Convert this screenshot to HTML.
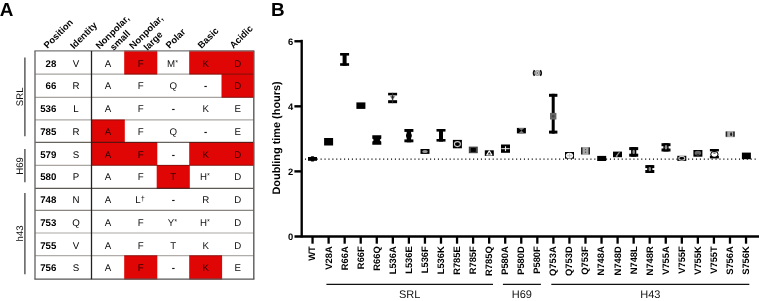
<!DOCTYPE html>
<html><head><meta charset="utf-8"><style>
html,body{margin:0;padding:0;background:#fff;width:759px;height:301px;overflow:hidden}
svg{display:block;filter:blur(0.3px)}
text{font-family:"Liberation Sans",sans-serif;text-rendering:geometricPrecision}
.g{text-rendering:geometricPrecision}
</style></head><body>
<svg width="759" height="301" viewBox="0 0 759 301">
<rect x="124.20" y="50.60" width="33.10" height="23.90" fill="#e00606"/>
<rect x="189.20" y="50.60" width="64.90" height="23.90" fill="#e00606"/>
<rect x="221.50" y="73.90" width="32.60" height="23.80" fill="#e00606"/>
<rect x="91.20" y="119.50" width="33.60" height="23.20" fill="#e00606"/>
<rect x="91.20" y="142.10" width="66.10" height="23.50" fill="#e00606"/>
<rect x="189.20" y="142.10" width="64.90" height="23.50" fill="#e00606"/>
<rect x="156.70" y="165.00" width="33.10" height="23.70" fill="#e00606"/>
<rect x="124.20" y="255.30" width="33.10" height="24.20" fill="#e00606"/>
<rect x="189.20" y="255.30" width="32.90" height="24.20" fill="#e00606"/>
<line x1="35.0" y1="74.20" x2="253.8" y2="74.20" stroke="#201810" stroke-width="1.2" stroke-opacity="0.4"/>
<line x1="35.0" y1="97.40" x2="253.8" y2="97.40" stroke="#201810" stroke-width="1.2" stroke-opacity="0.4"/>
<line x1="35.0" y1="119.80" x2="253.8" y2="119.80" stroke="#201810" stroke-width="1.2" stroke-opacity="0.38"/>
<line x1="35.0" y1="142.40" x2="253.8" y2="142.40" stroke="#201810" stroke-width="1.2" stroke-opacity="0.68"/>
<line x1="35.0" y1="165.30" x2="253.8" y2="165.30" stroke="#201810" stroke-width="1.2" stroke-opacity="0.39"/>
<line x1="35.0" y1="188.40" x2="253.8" y2="188.40" stroke="#201810" stroke-width="1.2" stroke-opacity="0.72"/>
<line x1="35.0" y1="210.40" x2="253.8" y2="210.40" stroke="#201810" stroke-width="1.2" stroke-opacity="0.53"/>
<line x1="35.0" y1="233.00" x2="253.8" y2="233.00" stroke="#201810" stroke-width="1.2" stroke-opacity="0.38"/>
<line x1="35.0" y1="255.60" x2="253.8" y2="255.60" stroke="#201810" stroke-width="1.2" stroke-opacity="0.36"/>
<line x1="34.4" y1="50.9" x2="254.4" y2="50.9" stroke="#777" stroke-width="1.4"/>
<line x1="34.4" y1="279.2" x2="254.4" y2="279.2" stroke="#555" stroke-width="1.3"/>
<line x1="35.0" y1="50.9" x2="35.0" y2="279.2" stroke="#6a6a6a" stroke-width="1.4"/>
<line x1="253.8" y1="50.9" x2="253.8" y2="279.2" stroke="#5a5a5a" stroke-width="1.4"/>
<line x1="91.5" y1="50.9" x2="91.5" y2="279.2" stroke="#222" stroke-width="1.3"/>
<text x="56.30" y="66.50" class="g" text-anchor="end" font-weight="bold" font-size="9.7">28</text>
<text x="76.00" y="66.50" class="g" text-anchor="middle" font-size="9.7">V</text>
<text x="108.00" y="66.50" class="g" text-anchor="middle" fill="#111" font-size="9.7">A</text>
<text x="140.75" y="66.50" class="g" text-anchor="middle" fill="#2a0000" font-size="9.7">F</text>
<text x="172.55" y="66.50" class="g" text-anchor="middle" fill="#111" font-size="9.7">M<tspan font-size="7.4" dy="-1.9">*</tspan></text>
<text x="205.65" y="66.50" class="g" text-anchor="middle" fill="#2a0000" font-size="9.7">K</text>
<text x="237.80" y="66.50" class="g" text-anchor="middle" fill="#2a0000" font-size="9.7">D</text>
<text x="56.30" y="89.25" class="g" text-anchor="end" font-weight="bold" font-size="9.7">66</text>
<text x="76.00" y="89.25" class="g" text-anchor="middle" font-size="9.7">R</text>
<text x="108.00" y="89.25" class="g" text-anchor="middle" fill="#111" font-size="9.7">A</text>
<text x="140.75" y="89.25" class="g" text-anchor="middle" fill="#111" font-size="9.7">F</text>
<text x="173.25" y="89.25" class="g" text-anchor="middle" fill="#111" font-size="9.7">Q</text>
<text x="205.65" y="89.25" class="g" text-anchor="middle" font-weight="bold" fill="#111" font-size="9.7">-</text>
<text x="237.80" y="89.25" class="g" text-anchor="middle" fill="#2a0000" font-size="9.7">D</text>
<text x="56.30" y="112.00" class="g" text-anchor="end" font-weight="bold" font-size="9.7">536</text>
<text x="76.00" y="112.00" class="g" text-anchor="middle" font-size="9.7">L</text>
<text x="108.00" y="112.00" class="g" text-anchor="middle" fill="#111" font-size="9.7">A</text>
<text x="140.75" y="112.00" class="g" text-anchor="middle" fill="#111" font-size="9.7">F</text>
<text x="173.25" y="112.00" class="g" text-anchor="middle" font-weight="bold" fill="#111" font-size="9.7">-</text>
<text x="205.65" y="112.00" class="g" text-anchor="middle" fill="#111" font-size="9.7">K</text>
<text x="237.80" y="112.00" class="g" text-anchor="middle" fill="#111" font-size="9.7">E</text>
<text x="56.30" y="134.75" class="g" text-anchor="end" font-weight="bold" font-size="9.7">785</text>
<text x="76.00" y="134.75" class="g" text-anchor="middle" font-size="9.7">R</text>
<text x="108.00" y="134.75" class="g" text-anchor="middle" fill="#2a0000" font-size="9.7">A</text>
<text x="140.75" y="134.75" class="g" text-anchor="middle" fill="#111" font-size="9.7">F</text>
<text x="173.25" y="134.75" class="g" text-anchor="middle" fill="#111" font-size="9.7">Q</text>
<text x="205.65" y="134.75" class="g" text-anchor="middle" font-weight="bold" fill="#111" font-size="9.7">-</text>
<text x="237.80" y="134.75" class="g" text-anchor="middle" fill="#111" font-size="9.7">E</text>
<text x="56.30" y="157.50" class="g" text-anchor="end" font-weight="bold" font-size="9.7">579</text>
<text x="76.00" y="157.50" class="g" text-anchor="middle" font-size="9.7">S</text>
<text x="108.00" y="157.50" class="g" text-anchor="middle" fill="#2a0000" font-size="9.7">A</text>
<text x="140.75" y="157.50" class="g" text-anchor="middle" fill="#2a0000" font-size="9.7">F</text>
<text x="173.25" y="157.50" class="g" text-anchor="middle" font-weight="bold" fill="#111" font-size="9.7">-</text>
<text x="205.65" y="157.50" class="g" text-anchor="middle" fill="#2a0000" font-size="9.7">K</text>
<text x="237.80" y="157.50" class="g" text-anchor="middle" fill="#2a0000" font-size="9.7">D</text>
<text x="56.30" y="180.25" class="g" text-anchor="end" font-weight="bold" font-size="9.7">580</text>
<text x="76.00" y="180.25" class="g" text-anchor="middle" font-size="9.7">P</text>
<text x="108.00" y="180.25" class="g" text-anchor="middle" fill="#111" font-size="9.7">A</text>
<text x="140.75" y="180.25" class="g" text-anchor="middle" fill="#111" font-size="9.7">F</text>
<text x="173.25" y="180.25" class="g" text-anchor="middle" fill="#2a0000" font-size="9.7">T</text>
<text x="204.95" y="180.25" class="g" text-anchor="middle" fill="#111" font-size="9.7">H<tspan font-size="7.4" dy="-1.9">*</tspan></text>
<text x="237.80" y="180.25" class="g" text-anchor="middle" fill="#111" font-size="9.7">D</text>
<text x="56.30" y="203.00" class="g" text-anchor="end" font-weight="bold" font-size="9.7">748</text>
<text x="76.00" y="203.00" class="g" text-anchor="middle" font-size="9.7">N</text>
<text x="108.00" y="203.00" class="g" text-anchor="middle" fill="#111" font-size="9.7">A</text>
<text x="140.05" y="203.00" class="g" text-anchor="middle" fill="#111" font-size="9.7">L<tspan font-size="7.4" dy="-1.9">†</tspan></text>
<text x="173.25" y="203.00" class="g" text-anchor="middle" font-weight="bold" fill="#111" font-size="9.7">-</text>
<text x="205.65" y="203.00" class="g" text-anchor="middle" fill="#111" font-size="9.7">R</text>
<text x="237.80" y="203.00" class="g" text-anchor="middle" fill="#111" font-size="9.7">D</text>
<text x="56.30" y="225.75" class="g" text-anchor="end" font-weight="bold" font-size="9.7">753</text>
<text x="76.00" y="225.75" class="g" text-anchor="middle" font-size="9.7">Q</text>
<text x="108.00" y="225.75" class="g" text-anchor="middle" fill="#111" font-size="9.7">A</text>
<text x="140.75" y="225.75" class="g" text-anchor="middle" fill="#111" font-size="9.7">F</text>
<text x="172.55" y="225.75" class="g" text-anchor="middle" fill="#111" font-size="9.7">Y<tspan font-size="7.4" dy="-1.9">*</tspan></text>
<text x="204.95" y="225.75" class="g" text-anchor="middle" fill="#111" font-size="9.7">H<tspan font-size="7.4" dy="-1.9">*</tspan></text>
<text x="237.80" y="225.75" class="g" text-anchor="middle" fill="#111" font-size="9.7">D</text>
<text x="56.30" y="248.50" class="g" text-anchor="end" font-weight="bold" font-size="9.7">755</text>
<text x="76.00" y="248.50" class="g" text-anchor="middle" font-size="9.7">V</text>
<text x="108.00" y="248.50" class="g" text-anchor="middle" fill="#111" font-size="9.7">A</text>
<text x="140.75" y="248.50" class="g" text-anchor="middle" fill="#111" font-size="9.7">F</text>
<text x="173.25" y="248.50" class="g" text-anchor="middle" fill="#111" font-size="9.7">T</text>
<text x="205.65" y="248.50" class="g" text-anchor="middle" fill="#111" font-size="9.7">K</text>
<text x="237.80" y="248.50" class="g" text-anchor="middle" fill="#111" font-size="9.7">D</text>
<text x="56.30" y="271.25" class="g" text-anchor="end" font-weight="bold" font-size="9.7">756</text>
<text x="76.00" y="271.25" class="g" text-anchor="middle" font-size="9.7">S</text>
<text x="108.00" y="271.25" class="g" text-anchor="middle" fill="#111" font-size="9.7">A</text>
<text x="140.75" y="271.25" class="g" text-anchor="middle" fill="#2a0000" font-size="9.7">F</text>
<text x="173.25" y="271.25" class="g" text-anchor="middle" font-weight="bold" fill="#111" font-size="9.7">-</text>
<text x="205.65" y="271.25" class="g" text-anchor="middle" fill="#2a0000" font-size="9.7">K</text>
<text x="237.80" y="271.25" class="g" text-anchor="middle" fill="#111" font-size="9.7">E</text>
<line x1="24.9" y1="57.6" x2="24.9" y2="136.2" stroke="#4a4a4a" stroke-width="1.35"/>
<text transform="translate(23.0,96.8) rotate(-90)" text-anchor="middle" font-size="9.6" fill="#111">SRL</text>
<line x1="24.9" y1="149" x2="24.9" y2="182.3" stroke="#4a4a4a" stroke-width="1.35"/>
<text transform="translate(23.0,166) rotate(-90)" text-anchor="middle" font-size="9.6" fill="#111">H69</text>
<line x1="24.9" y1="193" x2="24.9" y2="274.3" stroke="#4a4a4a" stroke-width="1.35"/>
<text transform="translate(23.0,233.4) rotate(-90)" text-anchor="middle" font-size="9.6" fill="#111">h43</text>
<text transform="translate(47.5,49.0) rotate(-45)" font-weight="bold" font-size="9.4">Position</text>
<text transform="translate(74.0,49.5) rotate(-45)" font-weight="bold" font-size="9.4">Identity</text>
<text transform="translate(99.5,49.5) rotate(-45)" font-weight="bold" font-size="9.4">Nonpolar,</text>
<text transform="translate(113.8,51.0) rotate(-45)" font-weight="bold" font-size="9.4">small</text>
<text transform="translate(133.1,49.5) rotate(-45)" font-weight="bold" font-size="9.4">Nonpolar,</text>
<text transform="translate(147.4,51.0) rotate(-45)" font-weight="bold" font-size="9.4">large</text>
<text transform="translate(169.5,49.0) rotate(-45)" font-weight="bold" font-size="9.4">Polar</text>
<text transform="translate(201.5,49.0) rotate(-45)" font-weight="bold" font-size="9.4">Basic</text>
<text transform="translate(233.5,49.0) rotate(-45)" font-weight="bold" font-size="9.4">Acidic</text>
<text x="-0.3" y="15.6" font-weight="bold" font-size="18.9">A</text>
<text x="270.9" y="15.7" font-weight="bold" font-size="18.9">B</text>
<line x1="301.7" y1="39.8" x2="301.7" y2="237.45" stroke="#000" stroke-width="2.35"/>
<line x1="294.5" y1="236.45" x2="759" y2="236.45" stroke="#000" stroke-width="2.35"/>
<line x1="294.4" y1="41.27" x2="301.7" y2="41.27" stroke="#000" stroke-width="2.4"/>
<line x1="294.4" y1="106.33" x2="301.7" y2="106.33" stroke="#000" stroke-width="2.4"/>
<line x1="294.4" y1="171.39" x2="301.7" y2="171.39" stroke="#000" stroke-width="2.4"/>
<text x="293.1" y="44.67" text-anchor="end" font-weight="bold" font-size="9.4">6</text>
<text x="293.1" y="109.73" text-anchor="end" font-weight="bold" font-size="9.4">4</text>
<text x="293.1" y="174.79" text-anchor="end" font-weight="bold" font-size="9.4">2</text>
<text x="293.1" y="239.85" text-anchor="end" font-weight="bold" font-size="9.4">0</text>
<text transform="translate(280.1,137.95) rotate(-90)" text-anchor="middle" font-weight="bold" font-size="10.9">Doubling time (hours)</text>
<line x1="312.55" y1="236.45" x2="312.55" y2="243.7" stroke="#000" stroke-width="2.3"/>
<text transform="translate(315.45,246.2) rotate(-90)" text-anchor="end" font-weight="bold" font-size="9.4">WT</text>
<line x1="328.61" y1="236.45" x2="328.61" y2="243.7" stroke="#000" stroke-width="2.3"/>
<text transform="translate(331.50,246.2) rotate(-90)" text-anchor="end" font-weight="bold" font-size="9.4">V28A</text>
<line x1="344.66" y1="236.45" x2="344.66" y2="243.7" stroke="#000" stroke-width="2.3"/>
<text transform="translate(347.56,246.2) rotate(-90)" text-anchor="end" font-weight="bold" font-size="9.4">R66A</text>
<line x1="360.72" y1="236.45" x2="360.72" y2="243.7" stroke="#000" stroke-width="2.3"/>
<text transform="translate(363.62,246.2) rotate(-90)" text-anchor="end" font-weight="bold" font-size="9.4">R66F</text>
<line x1="376.77" y1="236.45" x2="376.77" y2="243.7" stroke="#000" stroke-width="2.3"/>
<text transform="translate(379.67,246.2) rotate(-90)" text-anchor="end" font-weight="bold" font-size="9.4">R66Q</text>
<line x1="392.83" y1="236.45" x2="392.83" y2="243.7" stroke="#000" stroke-width="2.3"/>
<text transform="translate(395.73,246.2) rotate(-90)" text-anchor="end" font-weight="bold" font-size="9.4">L536A</text>
<line x1="408.88" y1="236.45" x2="408.88" y2="243.7" stroke="#000" stroke-width="2.3"/>
<text transform="translate(411.78,246.2) rotate(-90)" text-anchor="end" font-weight="bold" font-size="9.4">L536E</text>
<line x1="424.94" y1="236.45" x2="424.94" y2="243.7" stroke="#000" stroke-width="2.3"/>
<text transform="translate(427.83,246.2) rotate(-90)" text-anchor="end" font-weight="bold" font-size="9.4">L536F</text>
<line x1="440.99" y1="236.45" x2="440.99" y2="243.7" stroke="#000" stroke-width="2.3"/>
<text transform="translate(443.89,246.2) rotate(-90)" text-anchor="end" font-weight="bold" font-size="9.4">L536K</text>
<line x1="457.05" y1="236.45" x2="457.05" y2="243.7" stroke="#000" stroke-width="2.3"/>
<text transform="translate(459.94,246.2) rotate(-90)" text-anchor="end" font-weight="bold" font-size="9.4">R785E</text>
<line x1="473.10" y1="236.45" x2="473.10" y2="243.7" stroke="#000" stroke-width="2.3"/>
<text transform="translate(476.00,246.2) rotate(-90)" text-anchor="end" font-weight="bold" font-size="9.4">R785F</text>
<line x1="489.15" y1="236.45" x2="489.15" y2="243.7" stroke="#000" stroke-width="2.3"/>
<text transform="translate(492.05,246.2) rotate(-90)" text-anchor="end" font-weight="bold" font-size="9.4">R785Q</text>
<line x1="505.21" y1="236.45" x2="505.21" y2="243.7" stroke="#000" stroke-width="2.3"/>
<text transform="translate(508.11,246.2) rotate(-90)" text-anchor="end" font-weight="bold" font-size="9.4">P580A</text>
<line x1="521.26" y1="236.45" x2="521.26" y2="243.7" stroke="#000" stroke-width="2.3"/>
<text transform="translate(524.16,246.2) rotate(-90)" text-anchor="end" font-weight="bold" font-size="9.4">P580D</text>
<line x1="537.32" y1="236.45" x2="537.32" y2="243.7" stroke="#000" stroke-width="2.3"/>
<text transform="translate(540.22,246.2) rotate(-90)" text-anchor="end" font-weight="bold" font-size="9.4">P580F</text>
<line x1="553.38" y1="236.45" x2="553.38" y2="243.7" stroke="#000" stroke-width="2.3"/>
<text transform="translate(556.27,246.2) rotate(-90)" text-anchor="end" font-weight="bold" font-size="9.4">Q753A</text>
<line x1="569.43" y1="236.45" x2="569.43" y2="243.7" stroke="#000" stroke-width="2.3"/>
<text transform="translate(572.33,246.2) rotate(-90)" text-anchor="end" font-weight="bold" font-size="9.4">Q753D</text>
<line x1="585.49" y1="236.45" x2="585.49" y2="243.7" stroke="#000" stroke-width="2.3"/>
<text transform="translate(588.38,246.2) rotate(-90)" text-anchor="end" font-weight="bold" font-size="9.4">Q753F</text>
<line x1="601.54" y1="236.45" x2="601.54" y2="243.7" stroke="#000" stroke-width="2.3"/>
<text transform="translate(604.44,246.2) rotate(-90)" text-anchor="end" font-weight="bold" font-size="9.4">N748A</text>
<line x1="617.60" y1="236.45" x2="617.60" y2="243.7" stroke="#000" stroke-width="2.3"/>
<text transform="translate(620.50,246.2) rotate(-90)" text-anchor="end" font-weight="bold" font-size="9.4">N748D</text>
<line x1="633.65" y1="236.45" x2="633.65" y2="243.7" stroke="#000" stroke-width="2.3"/>
<text transform="translate(636.55,246.2) rotate(-90)" text-anchor="end" font-weight="bold" font-size="9.4">N748L</text>
<line x1="649.70" y1="236.45" x2="649.70" y2="243.7" stroke="#000" stroke-width="2.3"/>
<text transform="translate(652.60,246.2) rotate(-90)" text-anchor="end" font-weight="bold" font-size="9.4">N748R</text>
<line x1="665.76" y1="236.45" x2="665.76" y2="243.7" stroke="#000" stroke-width="2.3"/>
<text transform="translate(668.66,246.2) rotate(-90)" text-anchor="end" font-weight="bold" font-size="9.4">V755A</text>
<line x1="681.82" y1="236.45" x2="681.82" y2="243.7" stroke="#000" stroke-width="2.3"/>
<text transform="translate(684.72,246.2) rotate(-90)" text-anchor="end" font-weight="bold" font-size="9.4">V755F</text>
<line x1="697.87" y1="236.45" x2="697.87" y2="243.7" stroke="#000" stroke-width="2.3"/>
<text transform="translate(700.77,246.2) rotate(-90)" text-anchor="end" font-weight="bold" font-size="9.4">V755K</text>
<line x1="713.92" y1="236.45" x2="713.92" y2="243.7" stroke="#000" stroke-width="2.3"/>
<text transform="translate(716.82,246.2) rotate(-90)" text-anchor="end" font-weight="bold" font-size="9.4">V755T</text>
<line x1="729.98" y1="236.45" x2="729.98" y2="243.7" stroke="#000" stroke-width="2.3"/>
<text transform="translate(732.88,246.2) rotate(-90)" text-anchor="end" font-weight="bold" font-size="9.4">S756A</text>
<line x1="746.04" y1="236.45" x2="746.04" y2="243.7" stroke="#000" stroke-width="2.3"/>
<text transform="translate(748.94,246.2) rotate(-90)" text-anchor="end" font-weight="bold" font-size="9.4">S756K</text>
<line x1="304.95" y1="159.1" x2="757" y2="159.1" stroke="#000" stroke-width="1.15" stroke-dasharray="1.1 2.81"/>
<line x1="326.4" y1="284.35" x2="493.0" y2="284.35" stroke="#111" stroke-width="1.3"/>
<text x="409.70" y="297.7" text-anchor="middle" font-size="11" fill="#111">SRL</text>
<line x1="502.9" y1="284.35" x2="540.9" y2="284.35" stroke="#111" stroke-width="1.3"/>
<text x="521.90" y="297.7" text-anchor="middle" font-size="11" fill="#111">H69</text>
<line x1="551.3" y1="284.35" x2="749.3" y2="284.35" stroke="#111" stroke-width="1.3"/>
<text x="650.30" y="297.7" text-anchor="middle" font-size="11" fill="#111">H43</text>
<rect x="308.00" y="157.00" width="9.0" height="3.80" fill="#000"/>
<rect x="310.70" y="156.20" width="3.6" height="5.40" rx="1" fill="#000"/>
<rect x="324.10" y="138.00" width="9.0" height="7.50" fill="#000"/>
<rect x="340.10" y="53.00" width="9.0" height="2.6" fill="#000"/>
<rect x="340.10" y="63.20" width="9.0" height="2.6" fill="#000"/>
<rect x="342.60" y="53.00" width="4" height="12.80" fill="#000"/>
<rect x="356.40" y="102.40" width="9.0" height="6.50" fill="#000"/>
<path d="M372.30,135.30 H381.30 V138.50 L379.70,140.10 L381.30,141.70 V144.80 H372.30 V141.70 L373.90,140.10 L372.30,138.50 Z" fill="#000"/>
<rect x="388.10" y="92.80" width="9.0" height="2.6" fill="#000"/>
<rect x="388.10" y="100.20" width="9.0" height="3.0" fill="#000"/>
<path d="M389.40,95.20 H395.80 L392.60,100.80 Z" fill="#9a9a9a"/>
<rect x="392.10" y="92.80" width="1" height="10.40" fill="#333"/>
<circle cx="392.60" cy="97.20" r="1.1" fill="#222"/>
<rect x="404.40" y="129.00" width="9.0" height="2.9" fill="#000"/>
<rect x="404.40" y="139.40" width="9.0" height="2.9" fill="#000"/>
<rect x="406.70" y="129.00" width="4.4" height="13.30" fill="#000"/>
<circle cx="408.90" cy="135.60" r="2.9" fill="#000"/>
<rect x="420.50" y="149.00" width="9.0" height="4.90" fill="#000"/>
<ellipse cx="425.0" cy="151.5" rx="2.8" ry="1.6" fill="#999"/>
<rect x="436.50" y="129.00" width="9.0" height="2.6" fill="#000"/>
<rect x="436.50" y="139.00" width="9.0" height="2.6" fill="#000"/>
<rect x="439.00" y="129.00" width="4" height="12.60" fill="#000"/>
<rect x="452.90" y="139.90" width="9.0" height="8.40" fill="#000"/>
<ellipse cx="457.4" cy="144.1" rx="3.0" ry="2.50" fill="none" stroke="#ccc" stroke-width="1.1"/>
<rect x="468.80" y="146.60" width="9.0" height="6.60" fill="#444"/>
<rect x="470.80" y="147.90" width="5" height="4" fill="#000"/>
<rect x="484.80" y="150.30" width="9.0" height="5.60" fill="#000"/>
<path d="M486.70,155.00 L489.30,150.90 L491.90,155.00 Z" fill="#333" stroke="#fff" stroke-width="1.1" stroke-linejoin="round"/>
<rect x="501.00" y="144.50" width="9.0" height="8.30" fill="#000"/>
<rect x="501.30" y="148.10" width="8.40" height="1.1" fill="#ddd"/>
<rect x="504.95" y="146.30" width="1.1" height="4.8" fill="#eee"/>
<rect x="516.90" y="127.90" width="9.0" height="5.50" fill="#000"/>
<path d="M518.40,127.90 L524.40,127.90 L521.40,130.60 Z M518.40,133.40 L524.40,133.40 L521.40,130.60 Z" fill="#777"/>
<rect x="533.90" y="70.20" width="7.00" height="5.60" fill="#e4e4e4"/>
<path d="M534.50,70.10 Q532.50,73.00 534.50,75.90" fill="none" stroke="#111" stroke-width="1.6"/>
<path d="M540.30,70.10 Q542.30,73.00 540.30,75.90" fill="none" stroke="#111" stroke-width="1.6"/>
<circle cx="537.4" cy="73.0" r="2.4" fill="#ccc" stroke="#8a8a8a" stroke-width="1"/>
<circle cx="537.4" cy="73.0" r="0.9" fill="#777"/>
<rect x="549.00" y="93.80" width="8.4" height="3" fill="#000"/>
<rect x="549.00" y="130.60" width="8.4" height="3" fill="#000"/>
<rect x="551.70" y="93.80" width="3" height="39.80" fill="#000"/>
<rect x="550.00" y="112.90" width="6.4" height="6.6" fill="#666"/>
<circle cx="553.20" cy="116.20" r="1.3" fill="#444"/>
<rect x="565.00" y="152.00" width="9.0" height="6.70" fill="#000"/>
<ellipse cx="569.5" cy="155.60" rx="3.7" ry="2.95" fill="#f4f4f4"/>
<path d="M567.00,155.60 H572.00 M569.50,153.20 V158.00" stroke="#bbb" stroke-width="0.8"/>
<rect x="581.00" y="147.00" width="9.0" height="7.80" fill="#a8a8a8"/>
<rect x="581.00" y="147.50" width="1.5" height="6.80" fill="#222"/>
<rect x="588.50" y="147.50" width="1.5" height="6.80" fill="#222"/>
<circle cx="585.50" cy="149.60" r="0.7" fill="#555"/>
<circle cx="585.50" cy="152.20" r="0.7" fill="#555"/>
<rect x="597.20" y="155.90" width="9.0" height="5.10" fill="#000"/>
<rect x="613.00" y="151.60" width="9.0" height="5.60" fill="#000"/>
<path d="M616.00,156.60 L619.50,152.20" stroke="#999" stroke-width="1.1"/>
<circle cx="616.80" cy="156.00" r="0.9" fill="#888"/>
<rect x="629.20" y="147.10" width="9.0" height="3.0" fill="#000"/>
<rect x="629.20" y="153.70" width="9.0" height="3.0" fill="#000"/>
<rect x="631.10" y="147.10" width="5.2" height="9.60" fill="#000"/>
<ellipse cx="633.70" cy="151.90" rx="1.3" ry="2.20" fill="#8a8a8a"/>
<rect x="645.30" y="165.10" width="9.0" height="3.0" fill="#000"/>
<rect x="645.30" y="170.00" width="9.0" height="3.0" fill="#000"/>
<rect x="647.20" y="165.10" width="5.2" height="7.90" fill="#000"/>
<ellipse cx="649.80" cy="169.10" rx="1.3" ry="2.20" fill="#8a8a8a"/>
<rect x="661.50" y="143.20" width="9.0" height="3.0" fill="#000"/>
<rect x="661.50" y="148.50" width="9.0" height="3.0" fill="#000"/>
<rect x="663.40" y="143.20" width="5.2" height="8.30" fill="#000"/>
<ellipse cx="666.00" cy="147.30" rx="1.3" ry="2.20" fill="#8a8a8a"/>
<rect x="677.30" y="155.80" width="9.0" height="5.10" fill="#000"/>
<ellipse cx="681.8" cy="158.3" rx="3.0" ry="1.95" fill="none" stroke="#ccc" stroke-width="1.1"/>
<rect x="693.40" y="150.00" width="9.0" height="6.70" fill="#000"/>
<ellipse cx="697.9" cy="153.10" rx="3.3" ry="2.45" fill="#6a6a6a"/>
<rect x="696.50" y="153.90" width="2.8" height="0.9" fill="#222"/>
<rect x="709.90" y="149.00" width="9.0" height="2.4" fill="#000"/>
<rect x="709.90" y="155.80" width="9.0" height="2.6" fill="#000"/>
<ellipse cx="714.4" cy="154.30" rx="4.0" ry="3.4" fill="#000"/>
<ellipse cx="714.4" cy="154.30" rx="3.0" ry="2.4" fill="#fff"/>
<ellipse cx="714.4" cy="153.10" rx="1.6" ry="0.8" fill="#777"/>
<rect x="725.70" y="131.10" width="9.0" height="6.10" fill="#a8a8a8"/>
<rect x="725.70" y="131.60" width="1.5" height="5.10" fill="#222"/>
<rect x="733.20" y="131.60" width="1.5" height="5.10" fill="#222"/>
<ellipse cx="731.10" cy="134.2" rx="1.0" ry="1.9" fill="#222"/>
<rect x="741.90" y="152.60" width="9.0" height="6.60" fill="#000"/>
</svg>
</body></html>
